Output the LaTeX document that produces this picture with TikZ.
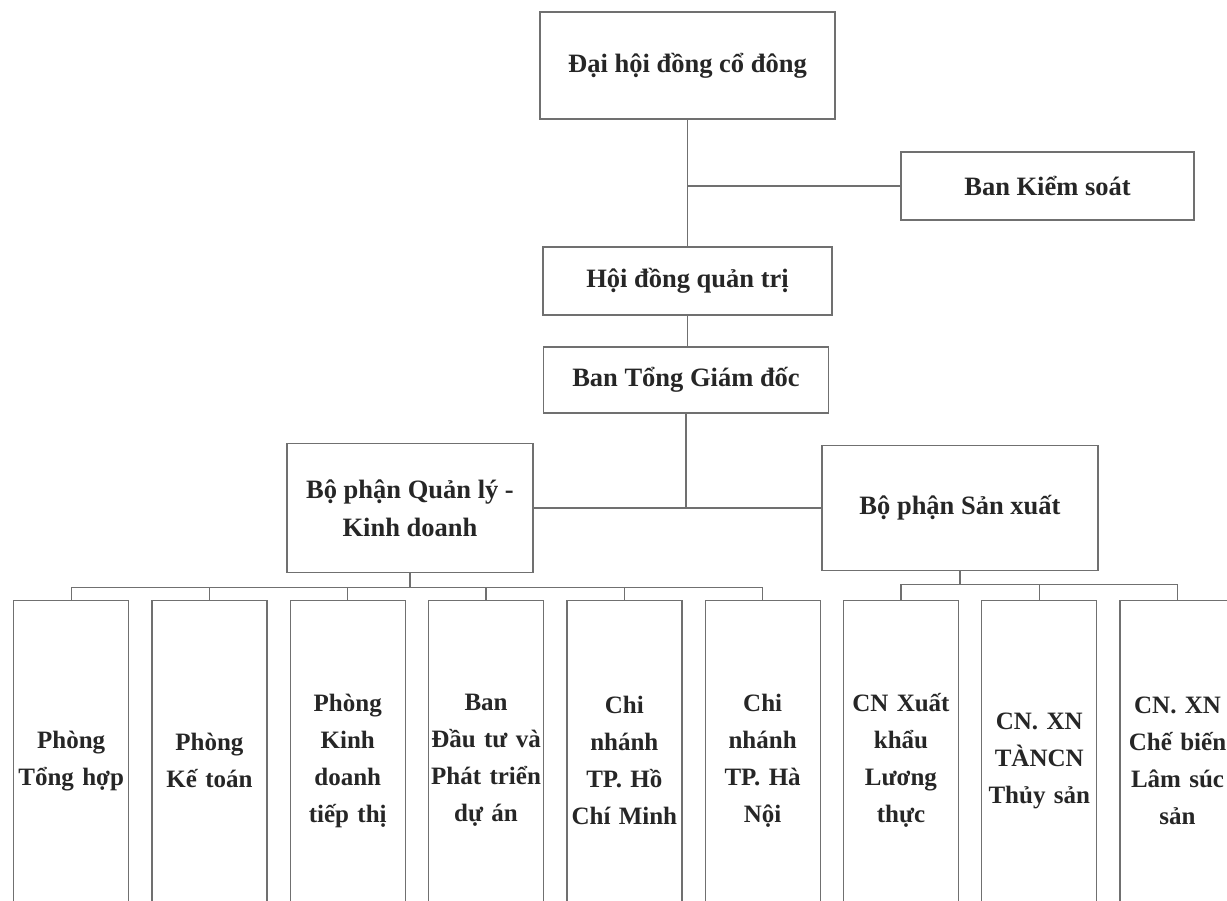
\documentclass[tikz,border=0pt]{standalone}
\usepackage{fontspec}
\setmainfont{Liberation Serif}
\usetikzlibrary{positioning}
\definecolor{linegray}{HTML}{707070}

\begin{document}
\frenchspacing
\begin{tikzpicture}[x=1pt,y=-1pt,node distance=22pt,
    box/.style={draw=linegray,line width=1.3pt,align=center,inner sep=2pt,text=black!85,font=\bfseries\fontsize{26.5}{38}\selectfont},
    unit/.style={box,minimum width=115pt,minimum height=320pt,text width=111pt,font=\bfseries\fontsize{25}{37}\selectfont}]
    \clip (0,0) rectangle (1227,901);
    \node[box,minimum width=295pt,minimum height=107pt] (dhcd) at (687.5,65.5) {Đại hội đồng cổ đông};
    \node[box,minimum width=293pt,minimum height=68pt] (bks) at (1047.5,186) {Ban Kiểm soát};
    \node[box,minimum width=289pt,minimum height=68pt] (hdqt) at (687.5,281) {Hội đồng quản trị};
    \node[box,minimum width=285pt,minimum height=66pt] (btgd) at (686,380) {Ban Tổng Giám đốc};
    \node[box,minimum width=246pt,minimum height=129pt] (bpql) at (410,508) {Bộ phận Quản lý -\\Kinh doanh};
    \node[box,minimum width=276pt,minimum height=125pt] (bpsx) at (960,508) {Bộ phận Sản xuất};
    \node[unit,anchor=north west] (p1) at (13,600) {Phòng\\Tổng hợp};
    \node[unit,right=of p1] (p2) {Phòng\\Kế toán};
    \node[unit,right=of p2] (p3) {Phòng\\Kinh\\doanh\\tiếp thị};
    \node[unit,right=of p3] (p4) {Ban\\Đầu tư và\\Phát triển\\dự án};
    \node[unit,right=of p4] (p5) {Chi\\nhánh\\TP. Hồ\\Chí Minh};
    \node[unit,right=of p5] (p6) {Chi\\nhánh\\TP. Hà\\Nội};
    \node[unit,right=of p6] (p7) {CN Xuất\\khẩu\\Lương\\thực};
    \node[unit,right=of p7] (p8) {CN. XN\\TÀNCN\\Thủy sản};
    \node[unit,right=of p8] (p9) {CN. XN\\Chế biến\\Lâm súc\\sản};
    \begin{scope}[draw=linegray,line width=1.3pt]
    \draw (dhcd.south)--(hdqt.north); \draw (bks.west)--(bks.west -| dhcd.south);
    \draw (hdqt.south)--(btgd.north -| hdqt.south);
    \draw (btgd.south)--(btgd.south |- bpql.east); \draw (bpql.east)--(bpsx.west);
    \foreach \n in {p1,p2,p3,p4,p5,p6} \draw (bpql.south)--++(0,14)-|(\n.north);
    \foreach \n in {p7,p8,p9} \draw (bpsx.south)--++(0,13)-|(\n.north);
    \end{scope}
  \end{tikzpicture}
\end{document}
